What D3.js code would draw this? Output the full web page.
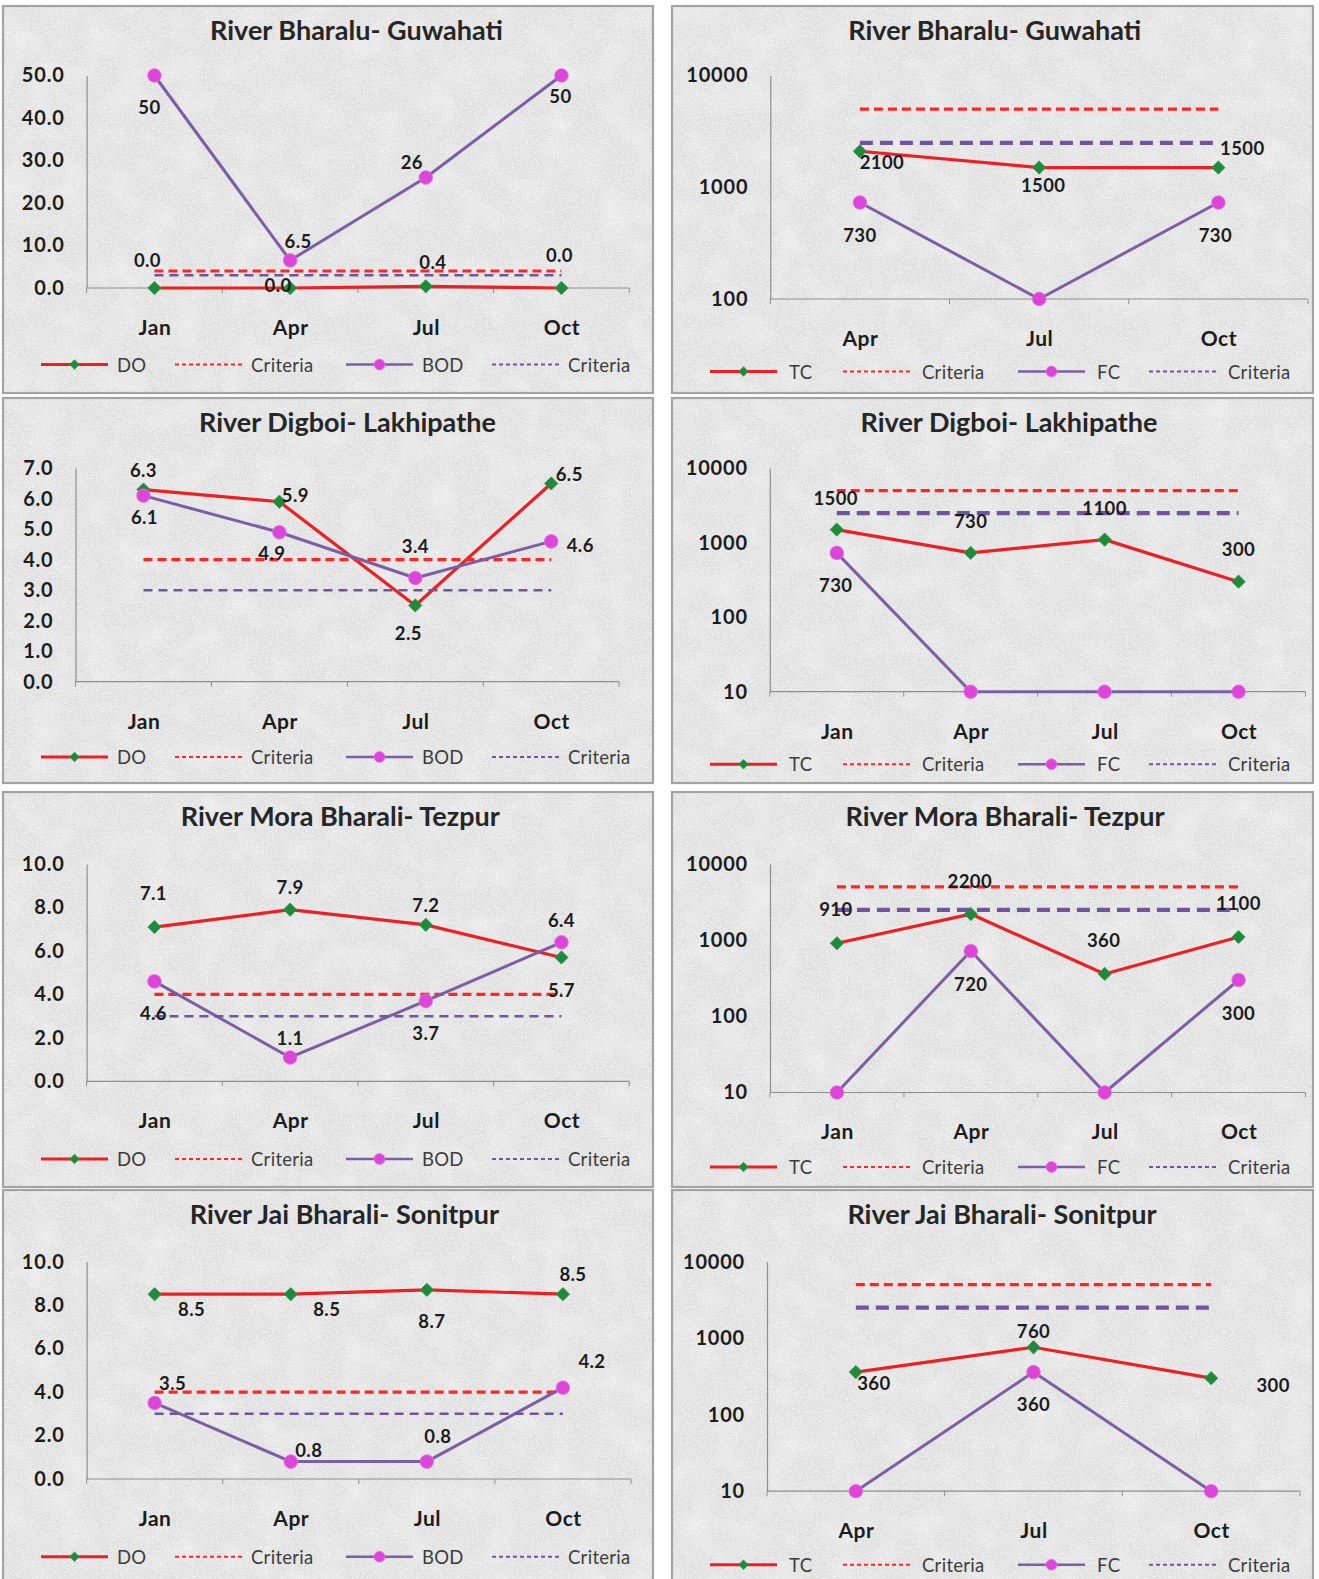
<!DOCTYPE html>
<html>
<head>
<meta charset="utf-8">
<script src="https://cdn.jsdelivr.net/npm/d3@7"></script>
<style>
  html, body { margin: 0; padding: 0; background: #ffffff; }
  svg { display: block; }
  text { font-family: Lato, "Open Sans", "DejaVu Sans", sans-serif; }
</style>
</head>
<body>
<svg id="chart" width="1319" height="1579"></svg>
<script>
// ---- categories ----
const monthsFull = ["Jan", "Apr", "Jul", "Oct"];
const monthsLate = ["Apr", "Jul", "Oct"];

// ---- panel titles ----
const titles = [
  "River Bharalu- Guwahati", "River Bharalu- Guwahati",
  "River Digboi- Lakhipathe", "River Digboi- Lakhipathe",
  "River Mora Bharali- Tezpur", "River Mora Bharali- Tezpur",
  "River Jai Bharali- Sonitpur", "River Jai Bharali- Sonitpur"
];

// ---- series names ----
const chemNames = ["DO", "Criteria", "BOD", "Criteria"];
const bioNames = ["TC", "Criteria", "FC", "Criteria"];

// ---- series values ----
const bharaluDO  = [0.0, 0.0, 0.4, 0.0];
const bharaluBOD = [50, 6.5, 26, 50];
const bharaluTC  = [2100, 1500, 1500];
const bharaluFC  = [730, 100, 730];

const digboiDO  = [6.3, 5.9, 2.5, 6.5];
const digboiBOD = [6.1, 4.9, 3.4, 4.6];
const digboiTC  = [1500, 730, 1100, 300];
const digboiFC  = [730, 10, 10, 10];

const moraDO  = [7.1, 7.9, 7.2, 5.7];
const moraBOD = [4.6, 1.1, 3.7, 6.4];
const moraTC  = [910, 2200, 360, 1100];
const moraFC  = [10, 720, 10, 300];

const jaiDO  = [8.5, 8.5, 8.7, 8.5];
const jaiBOD = [3.5, 0.8, 0.8, 4.2];
const jaiTC  = [360, 760, 300];
const jaiFC  = [10, 360, 10];

// ---- criteria limits ----
const doCriteria = 4;
const bodCriteria = 3;
const tcCriteria = 5000;
const fcCriteria = 2500;

// ---- tick labels ----
const ticks50 = [0, 10, 20, 30, 40, 50];
const ticks7 = [0, 1, 2, 3, 4, 5, 6, 7];
const ticks10 = [0, 2, 4, 6, 8, 10];
const logTicks100 = [100, 1000, 10000];
const logTicks10 = [10, 100, 1000, 10000];

// ---- panel definitions (built from the arrays above) ----
const panels = [
  { title: titles[0], cats: monthsFull, log: false, domain: [0, 50], ticks: ticks50, names: chemNames, a: bharaluDO, b: bharaluBOD, crit: [doCriteria, bodCriteria] },
  { title: titles[1], cats: monthsLate, log: true, domain: [100, 10000], ticks: logTicks100, names: bioNames, a: bharaluTC, b: bharaluFC, crit: [tcCriteria, fcCriteria] },
  { title: titles[2], cats: monthsFull, log: false, domain: [0, 7], ticks: ticks7, names: chemNames, a: digboiDO, b: digboiBOD, crit: [doCriteria, bodCriteria] },
  { title: titles[3], cats: monthsFull, log: true, domain: [10, 10000], ticks: logTicks10, names: bioNames, a: digboiTC, b: digboiFC, crit: [tcCriteria, fcCriteria] },
  { title: titles[4], cats: monthsFull, log: false, domain: [0, 10], ticks: ticks10, names: chemNames, a: moraDO, b: moraBOD, crit: [doCriteria, bodCriteria] },
  { title: titles[5], cats: monthsFull, log: true, domain: [10, 10000], ticks: logTicks10, names: bioNames, a: moraTC, b: moraFC, crit: [tcCriteria, fcCriteria] },
  { title: titles[6], cats: monthsFull, log: false, domain: [0, 10], ticks: ticks10, names: chemNames, a: jaiDO, b: jaiBOD, crit: [doCriteria, bodCriteria] },
  { title: titles[7], cats: monthsLate, log: true, domain: [10, 10000], ticks: logTicks10, names: bioNames, a: jaiTC, b: jaiFC, crit: [tcCriteria, fcCriteria] }
];

// ---- layout: chart frames [x, y, w, h] and plot areas [x0, x1, yTop, yBottom] ----
const frames = [
  [3, 6, 650, 387], [672, 6, 641, 387],
  [3, 398, 650, 385], [672, 398, 641, 385],
  [3, 792, 650, 395], [672, 792, 641, 395],
  [3, 1190, 650, 400], [672, 1190, 641, 400]
];
const plots = [
  [86.6, 629.3, 75.5, 288], [770.3, 1308, 75.5, 299],
  [75.5, 619.2, 468.2, 681.7], [769.8, 1305.5, 468.2, 691.7],
  [86.6, 629.3, 864, 1081.4], [770, 1305.5, 864, 1092.5],
  [86.6, 631, 1261.6, 1479], [767, 1300, 1261.6, 1491.2]
];
const titleX = [356.5, 994.8, 347.4, 1009, 340.3, 1005, 344.4, 1002];
const legendDrop = [76.5, 72.5, 75.3, 72.5, 77.6, 74.5, 77.7, 73.5];
const legendStartsLeft = [38, 172, 343, 489];
const legendStartsRight = [38, 171, 346, 477];

// data-label offsets [dx, dy] from each marker; null = no label
const labelOffsetsA = [
  [[-7, -28], [-12, -3], [7, -24], [-2, -33]],
  [[22, 11], [4, 17], [24, -20]],
  [[0, -20], [16, -7], [-7, 28], [18, -9]],
  [[-1, -32], [0, -32], [0, -32], [0, -33]],
  [[-1, -34], [0, -23], [0, -20], [0, 33]],
  [[-1, -34], [-1, -33], [-1, -34], [0, -34]],
  [[37, 15], [36, 15], [5, 31], [10, -20.5]],
  [[18, 11], [0, -16], [62, 7]]
];
const labelOffsetsB = [
  [[-5, 31], [8, -19], [-14, -15.5], [-1, 20]],
  [[0, 32], null, [-3, 32]],
  [[1, 21], [-7.5, 20.6], [0, -32], [29, 4]],
  [[-1, 32], null, null, null],
  [[-1, 32], [0, -19.5], [0, 32], [0, -22]],
  [null, [0, 33], null, [0, 33]],
  [[18, -20], [18, -12], [11, -26], [29, -27]],
  [null, [0, 32], null]
];

// ---- colours ----
const RED = "#ee1f23";
const RED_DASH = "#ff2525";
const PURPLE = "#7b5ea6";
const PURPLE_DASH = "#6f55a0";
const GREEN = "#1f8a3b";
const MAGENTA = "#dd45d9";
const AXIS = "#8e8e8e";
const INK = "#1c1c1c";

const svg = d3.select("#chart");
const defs = svg.append("defs");

// granite-like chart fill: dark and light specks over a soft mottled base
const grain = defs.append("filter").attr("id", "granite")
  .attr("x", 0).attr("y", 0).attr("width", 1).attr("height", 1);
grain.append("feTurbulence").attr("type", "fractalNoise").attr("baseFrequency", 0.035)
  .attr("numOctaves", 2).attr("seed", 3).attr("result", "coarse");
grain.append("feColorMatrix").attr("in", "coarse").attr("type", "matrix")
  .attr("values", "0 0 0 0 1  0 0 0 0 1  0 0 0 0 1  0.9 0 0 0 -0.38").attr("result", "light");
grain.append("feTurbulence").attr("type", "fractalNoise").attr("baseFrequency", 1.0)
  .attr("numOctaves", 2).attr("seed", 7).attr("result", "fine");
grain.append("feColorMatrix").attr("in", "fine").attr("type", "matrix")
  .attr("values", "0 0 0 0 0.5  0 0 0 0 0.5  0 0 0 0 0.5  2.2 0 0 0 -0.95").attr("result", "dark");
grain.append("feTurbulence").attr("type", "fractalNoise").attr("baseFrequency", 0.8)
  .attr("numOctaves", 2).attr("seed", 19).attr("result", "fine2");
grain.append("feColorMatrix").attr("in", "fine2").attr("type", "matrix")
  .attr("values", "0 0 0 0 1  0 0 0 0 1  0 0 0 0 1  -2.2 0 0 0 1.15").attr("result", "bright");
const merge = grain.append("feMerge");
merge.append("feMergeNode").attr("in", "light");
merge.append("feMergeNode").attr("in", "dark");
merge.append("feMergeNode").attr("in", "bright");

const diamond = d3.symbol().type(d3.symbolSquare);

function drawMarkerA(sel, x, y, size) {
  sel.append("path")
    .attr("d", diamond.size(size)())
    .attr("transform", `translate(${x},${y}) rotate(45)`)
    .attr("fill", GREEN)
    .attr("stroke", "#2f9a4a").attr("stroke-width", 0.8);
}
function drawMarkerB(sel, x, y, r) {
  sel.append("circle").attr("cx", x).attr("cy", y).attr("r", r)
    .attr("fill", MAGENTA).attr("stroke", "#e86de4").attr("stroke-width", 0.8);
}

panels.forEach((p, i) => {
  const [fx, fy, fw, fh] = frames[i];
  const [x0, x1, yT, yB] = plots[i];
  const g = svg.append("g");

  // frame
  g.append("rect").attr("x", fx).attr("y", fy).attr("width", fw).attr("height", fh)
    .attr("fill", "#e6e6e6");
  g.append("rect").attr("x", fx).attr("y", fy).attr("width", fw).attr("height", fh)
    .attr("filter", "url(#granite)");
  g.append("rect").attr("x", fx).attr("y", fy).attr("width", fw).attr("height", fh)
    .attr("fill", "none").attr("stroke", "#a3a3a3").attr("stroke-width", 2.2);

  // title
  g.append("text").attr("x", titleX[i]).attr("y", fy + 23)
    .attr("text-anchor", "middle").attr("dominant-baseline", "central")
    .attr("font-size", 27).attr("font-weight", 700).attr("fill", "#262626")
    .text(p.title);

  // scales
  const x = d3.scalePoint().domain(p.cats).range([x0, x1]).padding(0.5);
  const y = (p.log ? d3.scaleLog() : d3.scaleLinear()).domain(p.domain).range([yB, yT]);
  const step = x.step();

  // y axis
  const yAxis = d3.axisLeft(y).tickValues(p.ticks).tickSize(0).tickPadding(22)
    .tickFormat(p.log ? d3.format("d") : d3.format(".1f"));
  const ya = g.append("g").attr("transform", `translate(${x0},0)`).call(yAxis);
  ya.select(".domain").attr("stroke", AXIS).attr("stroke-width", 1.2);
  ya.selectAll("text").attr("font-size", 20).attr("font-weight", 700).attr("fill", INK)
    .attr("letter-spacing", 0.8).attr("font-family", "Lato, sans-serif");

  // x axis with category labels
  const xAxis = d3.axisBottom(x).tickSize(0).tickPadding(32);
  const xa = g.append("g").attr("transform", `translate(0,${yB})`).call(xAxis);
  xa.select(".domain").attr("d", `M${x0},0H${x1}`).attr("stroke", AXIS).attr("stroke-width", 1.2);
  xa.selectAll("text").attr("font-size", 21).attr("font-weight", 700).attr("fill", INK)
    .attr("letter-spacing", 0.5).attr("font-family", "Lato, sans-serif");
  // category boundary tick marks
  const bounds = p.cats.map(c => x(c) - step / 2).concat([x(p.cats[p.cats.length - 1]) + step / 2]);
  g.selectAll(null).data(bounds).join("line")
    .attr("x1", d => d).attr("x2", d => d).attr("y1", yB).attr("y2", yB + 5)
    .attr("stroke", AXIS).attr("stroke-width", 1);

  const first = p.cats[0], last = p.cats[p.cats.length - 1];
  const line = d3.line().x((d, k) => x(p.cats[k])).y(d => y(d));
  const isLeft = !p.log;

  // series A (DO / TC)
  g.append("path").attr("d", line(p.a)).attr("fill", "none")
    .attr("stroke", RED).attr("stroke-width", 3.2).attr("stroke-linejoin", "round");
  p.a.forEach((v, k) => drawMarkerA(g, x(p.cats[k]), y(v), 88));

  // criteria for A
  g.append("line").attr("x1", x(first)).attr("x2", x(last))
    .attr("y1", y(p.crit[0])).attr("y2", y(p.crit[0]))
    .attr("stroke", RED_DASH).attr("stroke-width", 3.2).attr("stroke-dasharray", "9,5");

  // series B (BOD / FC)
  g.append("path").attr("d", line(p.b)).attr("fill", "none")
    .attr("stroke", PURPLE).attr("stroke-width", 3).attr("stroke-linejoin", "round");
  p.b.forEach((v, k) => drawMarkerB(g, x(p.cats[k]), y(v), 6.8));

  // criteria for B
  g.append("line").attr("x1", x(first)).attr("x2", x(last))
    .attr("y1", y(p.crit[1])).attr("y2", y(p.crit[1]))
    .attr("stroke", PURPLE_DASH)
    .attr("stroke-width", isLeft ? 2.6 : 4.2)
    .attr("stroke-dasharray", isLeft ? "9,6" : "13,7");

  // data labels
  const fmtA = p.log ? (v => String(v)) : d3.format(".1f");
  const fmtB = v => String(v);
  const addLabels = (vals, offs, fmt) => {
    vals.forEach((v, k) => {
      const o = offs[k];
      if (!o) return;
      g.append("text").attr("x", x(p.cats[k]) + o[0]).attr("y", y(v) + o[1])
        .attr("text-anchor", "middle").attr("dominant-baseline", "central")
        .attr("font-size", 18.5).attr("font-weight", 700).attr("fill", INK)
        .attr("letter-spacing", 0.4)
        .text(fmt(v));
    });
  };
  addLabels(p.a, labelOffsetsA[i], fmtA);
  addLabels(p.b, labelOffsetsB[i], fmtB);

  // legend
  const ly = yB + legendDrop[i];
  const starts = isLeft ? legendStartsLeft : legendStartsRight;
  const len = 67;
  p.names.forEach((name, k) => {
    const lx = fx + starts[k];
    if (k === 0) {
      g.append("line").attr("x1", lx).attr("x2", lx + len).attr("y1", ly).attr("y2", ly)
        .attr("stroke", RED).attr("stroke-width", 3);
      drawMarkerA(g, lx + len / 2, ly, 45);
    } else if (k === 2) {
      g.append("line").attr("x1", lx).attr("x2", lx + len).attr("y1", ly).attr("y2", ly)
        .attr("stroke", PURPLE).attr("stroke-width", 2.6);
      drawMarkerB(g, lx + len / 2, ly, 5.4);
    } else {
      g.append("line").attr("x1", lx).attr("x2", lx + len).attr("y1", ly).attr("y2", ly)
        .attr("stroke", k === 1 ? RED_DASH : PURPLE_DASH).attr("stroke-width", 2)
        .attr("stroke-dasharray", "4,3");
    }
    g.append("text").attr("x", lx + len + (isLeft ? 9 : 12)).attr("y", ly)
      .attr("dominant-baseline", "central").attr("font-size", 18.5)
      .attr("letter-spacing", 0.3)
      .attr("fill", "#3c3c3c").text(name);
  });
});
</script>
</body>
</html>
